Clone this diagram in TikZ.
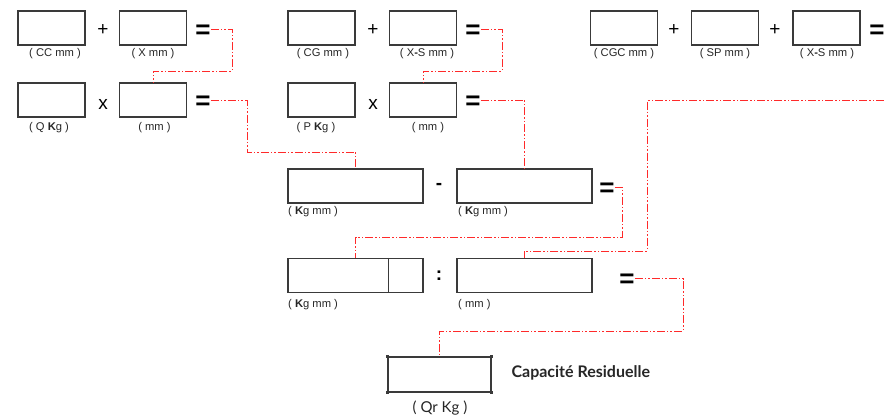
\documentclass[tikz,border=0pt]{standalone}
\usepackage{fontspec}
\setmainfont{Liberation Sans}
\newfontfamily\latofont{Lato}
\definecolor{boxline}{HTML}{3A3A3A}
\definecolor{linkred}{HTML}{FF2A2A}
\tikzset{
  fbox/.style={draw=boxline, line width=1.2pt, minimum width=67pt,
               minimum height=34pt, inner sep=0pt},
  widebox/.style={fbox, minimum width=135pt},
  lbl/.style={font=\fontsize{11.2}{12}\selectfont, inner sep=0pt, text=black!85},
  oper/.style={font=\fontsize{19}{20}\selectfont, inner sep=0pt},
  eqsign/.style={font=\fontsize{26}{26}\selectfont\bfseries, inner sep=0pt,
                 text height=18.5pt, text depth=0pt},
  link/.style={draw=linkred, line width=0.9pt,
               dash pattern=on 8pt off 2pt on 1.5pt off 2pt on 1.5pt off 2pt},
}

\begin{document}
\begin{tikzpicture}[x=1pt, y=-1pt]
    \useasboundingbox (0,0) rectangle (884,415);
    % left group
    \node[fbox] (cc) at (51.5, 28) {};
    \node[fbox] (xmm) at (153, 28) {};
    \node[fbox] (qkg) at (51.5, 100) {};
    \node[fbox] (mmA) at (153, 100) {};
    \node[oper] (plA) at (103, 30) {+};
    \node[oper] (mulA) at (103, 104) {x};
    \node[eqsign] (eqA1) at (203, 29) {=};
    \node[eqsign] (eqA2) at (203, 100) {=};
    \node[lbl] (lcc) at (55, 54) {( CC mm )};
    \node[lbl] (lxmm) at (153, 54) {( X mm )};
    \node[lbl] (lqkg) at (49, 128) {( Q \textbf{K}g )};
    \node[lbl] (lmmA) at (154.5, 128) {( mm )};
    % middle group
    \node[fbox] (cg) at (321.5, 28) {};
    \node[fbox] (xs) at (423, 28) {};
    \node[fbox] (pkg) at (321.5, 100) {};
    \node[fbox] (mmB) at (423, 100) {};
    \node[oper] (plB) at (373, 30) {+};
    \node[oper] (mulB) at (373, 104) {x};
    \node[eqsign] (eqB1) at (473, 29) {=};
    \node[eqsign] (eqB2) at (473, 100) {=};
    \node[lbl] (lcg) at (323, 54) {( CG mm )};
    \node[lbl] (lxs) at (427, 54) {( X\textbf{-}S mm )};
    \node[lbl] (lpkg) at (316, 128) {( P \textbf{K}g )};
    \node[lbl] (lmmB) at (428, 128) {( mm )};
    % right group
    \node[fbox] (cgc) at (624, 28) {};
    \node[fbox] (sp) at (725, 28) {};
    \node[fbox] (xsR) at (826.5, 28) {};
    \node[oper] (plC) at (674, 30) {+};
    \node[oper] (plD) at (775, 30) {+};
    \node[eqsign] (eqR) at (877, 29) {=};
    \node[lbl] (lcgc) at (624, 54) {( CGC mm )};
    \node[lbl] (lsp) at (725, 54) {( SP mm )};
    \node[lbl] (lxsR) at (827, 54) {( X\textbf{-}S mm )};
    % moments
    \node[widebox] (kgA) at (355.5, 186) {};
    \node[widebox] (kgB) at (524.5, 186) {};
    \node[oper, font=\fontsize{19}{20}\selectfont\bfseries] (minus) at (439, 186) {-};
    \node[eqsign] (eqC) at (607, 187) {=};
    \node[lbl, anchor=west] (lkgA) at (288, 212) {( \textbf{K}g mm )};
    \node[lbl, anchor=west] (lkgB) at (458, 212) {( \textbf{K}g mm )};
    % division
    \node[widebox] (kgC) at (355.5, 275.5) {};
    \node[widebox] (mmC) at (524.5, 275.5) {};
    \draw[boxline, line width=1pt] ([xshift=101pt]kgC.north west) -- ([xshift=101pt]kgC.south west);
    \node[oper, font=\fontsize{19}{20}\selectfont\bfseries] (divd) at (439, 276) {:};
    \node[eqsign] (eqD) at (627, 278.5) {=};
    \node[lbl, anchor=west] (lkgC) at (288, 305) {( \textbf{K}g mm )};
    \node[lbl, anchor=west] (lmmC) at (458, 305) {( mm )};
    % result
    \node[fbox, minimum width=103pt, minimum height=35pt] (qr) at (439.5, 374.5) {};
    \foreach \c in {north west, north east, south west, south east}
      \fill[boxline] (qr.\c) ++(-1.6,-1.6) rectangle ++(3.2,3.2);
    \node[font=\fontsize{16}{18}\selectfont\latofont\bfseries, text=black!85, anchor=west] (cap) at (508, 373) {Capacité Residuelle};
    \node[font=\fontsize{15}{16}\selectfont\latofont, text=black!85] (lqr) at (440, 408) {( Qr Kg )};
    % links
    \coordinate (offR) at (884, 100.7);
    \draw[link] (eqA1.east) -| (232, 71) -| (mmA.north);
    \draw[link] (eqA2.east) -| (247, 152) -| (kgA.north);
    \draw[link] (eqB1.east) -| (502, 71) -| (mmB.north);
    \draw[link] (eqB2.east) -| (kgB.north);
    \draw[link] (eqC.east) -| (622, 237) -| (kgC.north);
    \draw[link] (offR) -| (647, 251) -| (mmC.north);
    \draw[link] (eqD.east) -| (683, 331) -| (qr.north);
  \end{tikzpicture}
\end{document}
